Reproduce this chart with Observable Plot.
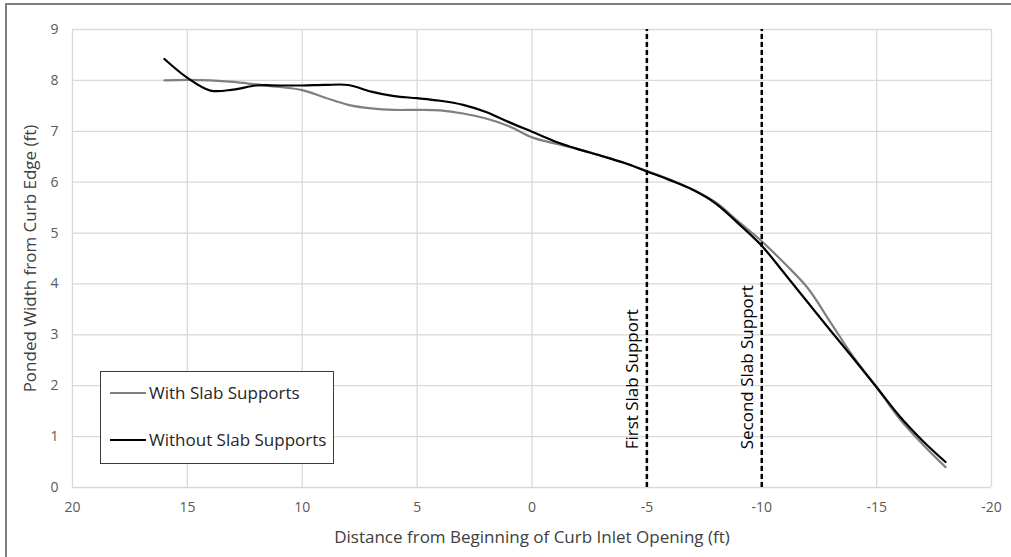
<!DOCTYPE html>
<html>
<head>
<meta charset="utf-8">
<script src="https://cdn.jsdelivr.net/npm/d3@7"></script>
<script src="https://cdn.jsdelivr.net/npm/@observablehq/plot@0.6"></script>
<style>
  html, body { margin: 0; padding: 0; background: #fff; }
  #wrap { position: relative; width: 1011px; height: 557px; overflow: hidden; font-family: "Open Sans", sans-serif; }
  #border { position: absolute; left: 5px; top: 3px; right: -10px; bottom: -10px; border-left: 2px solid #7f7f7f; border-top: 2px solid #7f7f7f; pointer-events: none; }
  #legend { position: absolute; left: 100px; top: 371px; width: 234px; height: 93px; background: #fff; border: 1.3px solid #3a3a3a; box-sizing: border-box; }
  .li { position: absolute; left: 9px; display: flex; align-items: center; font-size: 17px; color: #262626; white-space: nowrap; }
  .sw { width: 36px; height: 0; margin-right: 3px; }
</style>
</head>
<body>
<div id="wrap">
  <div id="chart"></div>
  <div id="border"></div>
  <div id="legend"></div>
</div>
<script>
const distance = [16, 15, 14, 13, 12, 11, 10, 9, 8, 7, 6, 5, 4, 3, 2, 1, 0, -1, -2, -3, -4, -5, -6, -7, -8, -9, -10, -11, -12, -13, -14, -15, -16, -17, -18];
const withSupports = [8.00, 8.01, 8.00, 7.97, 7.92, 7.87, 7.81, 7.66, 7.52, 7.45, 7.42, 7.42, 7.41, 7.35, 7.25, 7.10, 6.88, 6.76, 6.65, 6.52, 6.38, 6.22, 6.05, 5.85, 5.60, 5.22, 4.84, 4.40, 3.92, 3.24, 2.56, 1.97, 1.35, 0.85, 0.40];
const withoutSupports = [8.42, 8.05, 7.80, 7.82, 7.90, 7.90, 7.90, 7.91, 7.91, 7.78, 7.69, 7.65, 7.60, 7.52, 7.38, 7.18, 6.99, 6.80, 6.65, 6.52, 6.38, 6.21, 6.04, 5.85, 5.58, 5.18, 4.75, 4.20, 3.64, 3.08, 2.53, 1.97, 1.40, 0.92, 0.50];
const seriesNames = ["With Slab Supports", "Without Slab Supports"];
const seriesColors = ["#7f7f7f", "#000000"];
const supportPositions = [-5, -10];
const supportLabels = ["First Slab Support", "Second Slab Support"];
const xTicks = [20, 15, 10, 5, 0, -5, -10, -15, -20];
const yTicks = [0, 1, 2, 3, 4, 5, 6, 7, 8, 9];
const xTitle = "Distance from Beginning of Curb Inlet Opening (ft)";
const yTitle = "Ponded Width from Curb Edge (ft)";

const rows = [];
distance.forEach((d, i) => {
  rows.push({x: d, y: withSupports[i], s: seriesNames[0]});
});
distance.forEach((d, i) => {
  rows.push({x: d, y: withoutSupports[i], s: seriesNames[1]});
});
const supports = supportPositions.map((p, i) => ({x: p, label: supportLabels[i]}));

const chart = Plot.plot({
  width: 1011,
  height: 557,
  marginLeft: 72,
  marginRight: 20,
  marginTop: 29,
  marginBottom: 70,
  style: {fontFamily: "Open Sans, sans-serif", background: "transparent"},
  x: {domain: [20, -20]},
  y: {domain: [0, 9]},
  marks: [
    Plot.gridX(xTicks, {stroke: "#d9d9d9", strokeOpacity: 1, strokeWidth: 1.3}),
    Plot.gridY(yTicks, {stroke: "#d9d9d9", strokeOpacity: 1, strokeWidth: 1.3}),
    Plot.axisX({ticks: xTicks, tickSize: 0, tickPadding: 15, fontSize: 14, color: "#595959",
      tickFormat: d => String(d).replace("−", "-"), label: null}),
    Plot.axisY({ticks: yTicks, tickSize: 0, tickPadding: 14, fontSize: 14, color: "#595959", label: null}),
    Plot.text([xTitle], {frameAnchor: "bottom", dy: 55, text: d => d, fontSize: 17, fill: "#404040"}),
    Plot.text([yTitle], {frameAnchor: "left", dx: -42, rotate: -90, textAnchor: "middle", text: d => d, fontSize: 17, fill: "#404040"}),
    Plot.line(rows.filter(r => r.s === seriesNames[0]), {x: "x", y: "y", stroke: seriesColors[0], strokeWidth: 2.2, curve: "catmull-rom"}),
    Plot.line(rows.filter(r => r.s === seriesNames[1]), {x: "x", y: "y", stroke: seriesColors[1], strokeWidth: 2.2, curve: "catmull-rom"}),
    Plot.ruleX(supports, {x: "x", y1: 0, y2: 9, stroke: "#000", strokeWidth: 2.5, strokeDasharray: "5,3"}),
    Plot.text(supports, {x: "x", y: 0.75, text: "label", rotate: -90, textAnchor: "start", dx: -14, fontSize: 17, fill: "#000"})
  ]
});
document.getElementById("chart").appendChild(chart);

const legend = document.getElementById("legend");
seriesNames.forEach((name, i) => {
  const item = document.createElement("div");
  item.className = "li";
  item.style.top = (i === 0 ? 9 : 56) + "px";
  const sw = document.createElement("span");
  sw.className = "sw";
  sw.style.borderTop = "2.2px solid " + seriesColors[i];
  const t = document.createElement("span");
  t.textContent = name;
  item.appendChild(sw);
  item.appendChild(t);
  legend.appendChild(item);
});
</script>
</body>
</html>
